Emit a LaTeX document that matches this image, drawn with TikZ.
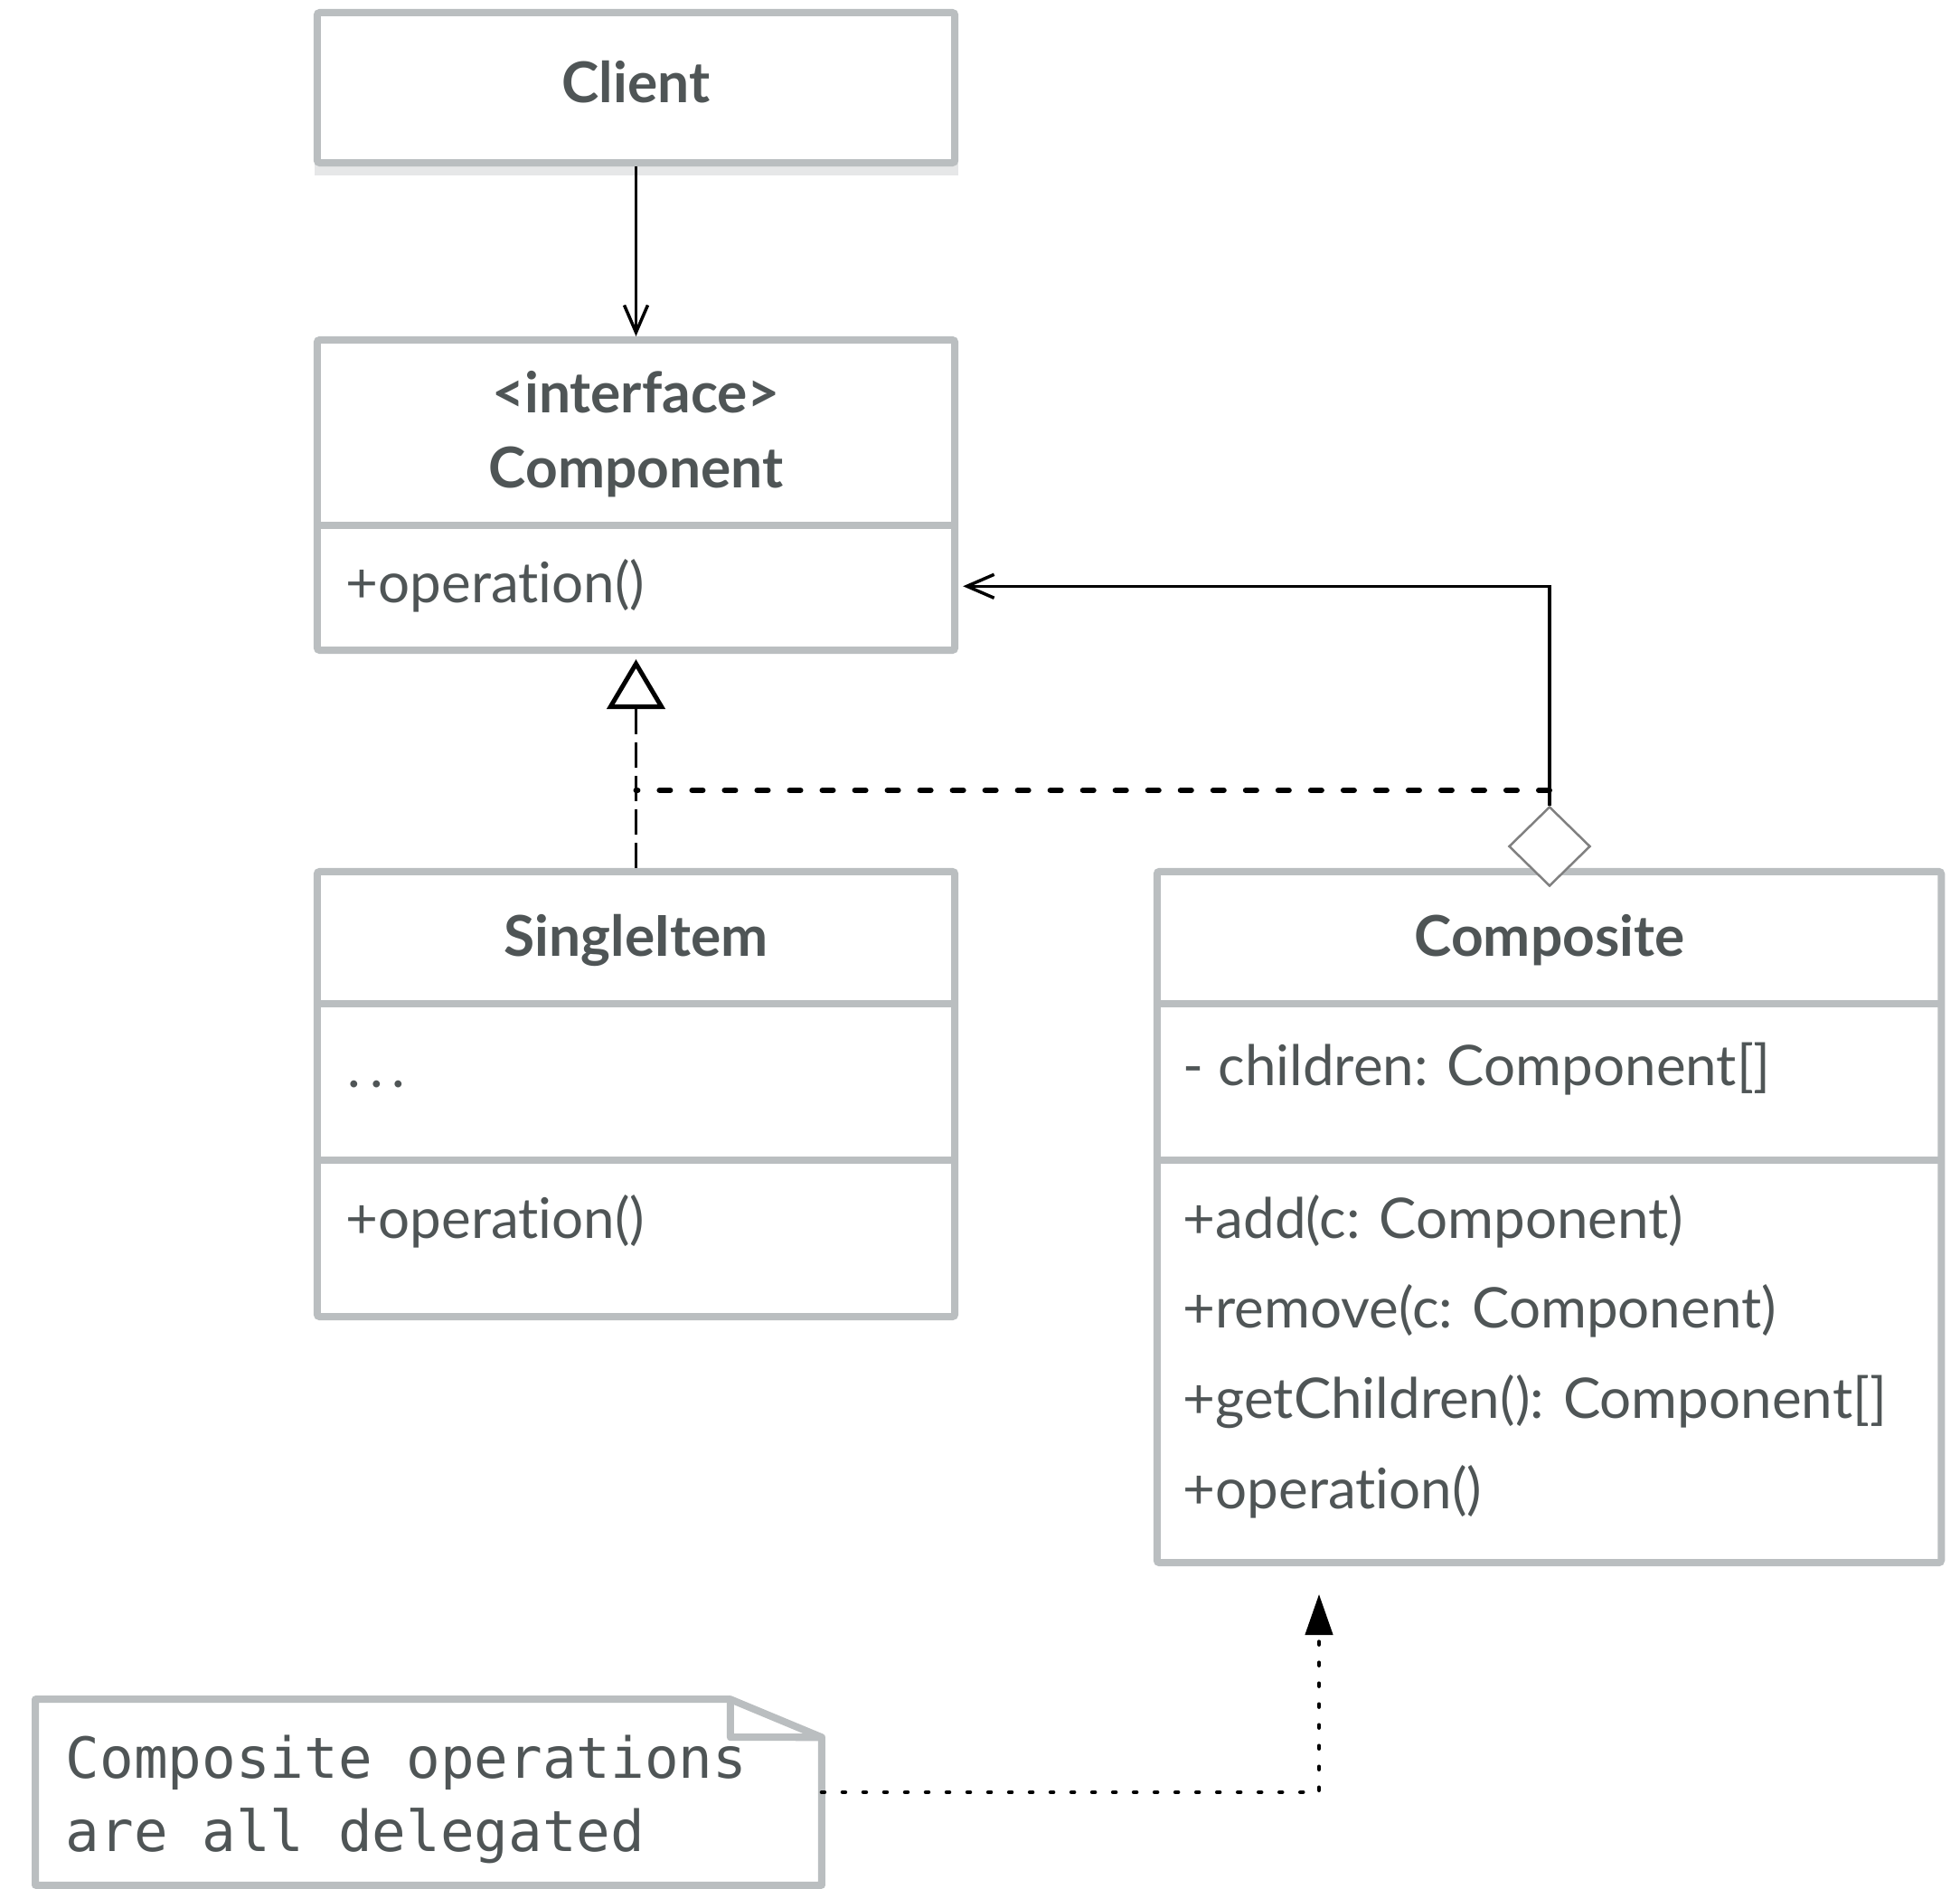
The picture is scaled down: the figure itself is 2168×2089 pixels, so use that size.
\documentclass[tikz,border=0pt]{standalone}
\usepackage{fontspec}
\setmainfont{Lato}[Ligatures=NoCommon, RawFeature=-liga]
\newfontfamily\notemono{DejaVu Sans Mono}
\usetikzlibrary{arrows.meta,shapes.geometric}

\definecolor{ink}{RGB}{79,85,86}
\definecolor{boxgray}{RGB}{186,190,192}
\definecolor{shadowgray}{RGB}{230,231,232}
\definecolor{diagray}{RGB}{128,128,128}

\newcommand{\umltitle}{\fontsize{17.7}{20}\selectfont\bfseries}
\newcommand{\umlmember}{\fontsize{17.6}{20}\selectfont}
\newcommand{\umlnote}{\notemono\fontsize{17.8}{22}\selectfont}

\tikzset{
  classbox/.style={draw=boxgray, fill=white, line width=0.08cm, rounded corners=0.03cm, inner sep=0},
  divider/.style={draw=boxgray, line width=0.08cm},
  title/.style={font=\umltitle, text=ink, anchor=base, inner sep=0},
  member/.style={font=\umlmember, text=ink, anchor=base west, inner sep=0},
  notetext/.style={font=\umlnote, text=ink, anchor=base west, inner sep=0},
  uses/.style={line width=0.035cm, -{Straight Barb[length=0.3cm,width=0.26cm]}},
  realize/.style={line width=0.035cm, dash pattern=on 0.28cm off 0.09cm, -{Triangle[open,length=0.55cm,width=0.64cm,line width=0.05cm]}},
  realizejoin/.style={line width=0.06cm, line cap=round, dash pattern=on 0.12cm off 0.24cm},
  delegates/.style={line width=0.045cm, line cap=round, dash pattern=on 0.03cm off 0.2cm, -{Triangle[length=0.45cm,width=0.3cm]}},
  aggdiamond/.style={diamond, draw=diagray, fill=white, line width=0.025cm, minimum width=0.9cm, minimum height=0.88cm, inner sep=0},
}

\begin{document}
\begin{tikzpicture}[x=0.01cm,y=-0.01cm]
\useasboundingbox (0,0) rectangle (2168,2089);

% Client
\fill[shadowgray] (348,176) rectangle (1060,194);
\node[classbox, minimum width=7.05cm, minimum height=1.66cm] (client) at (703.5,97) {};
\node[title] (clientname) at (703.5,114) {Client};

% Component
\node[classbox, minimum width=7.05cm, minimum height=3.43cm] (comp) at (703.5,547.5) {};
\draw[divider] (347,581) -- (1060,581);
\node[title] (compstereo) at (703.5,457) {<interface>};
\node[title] (compname) at (703.5,540) {Component};
\node[member] (compop) at (382,667) {+operation()};

% SingleItem
\node[classbox, minimum width=7.05cm, minimum height=4.92cm] (single) at (703.5,1210) {};
\draw[divider] (347,1110) -- (1060,1110);
\draw[divider] (347,1283) -- (1060,1283);
\node[title] (singlename) at (703.5,1058) {SingleItem};
\node[member] (singleattr) at (384,1203) {.\hspace{0.1cm}.\hspace{0.1cm}.};
\node[member] (singleop) at (382,1370) {+operation()};

% Composite
\node[classbox, minimum width=8.67cm, minimum height=7.64cm] (composite) at (1713.5,1346) {};
\draw[divider] (1276,1110) -- (2151,1110);
\draw[divider] (1276,1283) -- (2151,1283);
\node[title] (compositename) at (1714,1058) {Composite};
\node[member] (children) at (1308,1201) {- children: Component[]};
\node[member] (addop) at (1308,1370) {+add(c: Component)};
\node[member] (removeop) at (1308,1469) {+remove(c: Component)};
\node[member] (getop) at (1308,1569) {+getChildren(): Component[]};
\node[member] (compositeop) at (1308,1669) {+operation()};

% note
\node[minimum width=8.68cm, minimum height=2.04cm, inner sep=0] (note) at (474,1982) {};
\draw[boxgray, line width=0.08cm, line join=round] (note.north west) -- ([xshift=-1.01cm]note.north east)
  -- ([yshift=-0.42cm]note.north east) -- (note.south east) -- (note.south west) -- cycle;
\draw[boxgray, line width=0.08cm, line join=round] ([xshift=-1.01cm]note.north east) -- ++(0,42)
  -- ([yshift=-0.42cm]note.north east);
\node[notetext] (noteline1) at (72,1967) {Composite operations};
\node[notetext] (noteline2) at (72,2048) {are all delegated};

% connectors
\draw[uses] (client) -- (comp);
\draw[realize, shorten >=0.06cm] (single) -- (comp);
\coordinate (joinleft) at (703.5,874);
\coordinate (joinright) at (1714,874);
\draw[realizejoin] (joinright) -- (joinleft);
\node[aggdiamond] (agg) at (1714,936) {};
\draw[uses, shorten >=0.05cm] (agg.north) |- (comp.east |- compop);
\coordinate (delegtip) at (1459,1763);
\draw[delegates] (note.east) -| (delegtip);

\end{tikzpicture}
\end{document}
